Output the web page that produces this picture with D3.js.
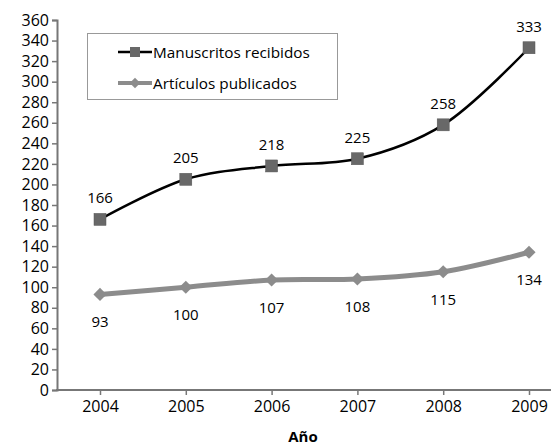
<!DOCTYPE html>
<html>
<head>
<meta charset="utf-8">
<script src="https://cdn.jsdelivr.net/npm/d3@7"></script>
<style>
  body { margin: 0; background: #fff; }
  svg { display: block; }
</style>
</head>
<body>
<svg></svg>
<script>
const years = ['2004', '2005', '2006', '2007', '2008', '2009'];
const manuscritos = [166, 205, 218, 225, 258, 333];
const articulos = [93, 100, 107, 108, 115, 134];
const yTicks = d3.range(0, 361, 20);
const seriesNames = ['Manuscritos recibidos', 'Artículos publicados'];

const WIDTH = 555;
const HEIGHT = 446;
const FONT = '"Open Sans", sans-serif';

const svg = d3.select('svg')
  .attr('width', WIDTH)
  .attr('height', HEIGHT)
  .attr('font-family', FONT);

const xScale = d3.scalePoint()
  .domain(years)
  .range([100, 529]);

const yScale = d3.scaleLinear()
  .domain([0, 360])
  .range([390, 20]);

// y axis
const yAxis = d3.axisLeft(yScale)
  .tickValues(yTicks)
  .tickSize(5)
  .tickPadding(3);

const gy = svg.append('g')
  .attr('transform', 'translate(57, 0)')
  .call(yAxis);
gy.select('.domain').attr('stroke', '#777').attr('stroke-width', 2);
gy.selectAll('.tick line').attr('stroke', '#777').attr('stroke-width', 1.5);
gy.selectAll('.tick text').attr('font-size', 16).attr('fill', '#000').attr('font-family', FONT);

// x axis
const xAxis = d3.axisBottom(xScale)
  .tickSize(5)
  .tickPadding(6);

const gx = svg.append('g')
  .attr('transform', 'translate(0, 390)')
  .call(xAxis);
gx.select('.domain').remove();
gx.append('line')
  .attr('x1', 56).attr('x2', 551)
  .attr('stroke', '#777').attr('stroke-width', 2);
gx.selectAll('.tick line').attr('stroke', '#777').attr('stroke-width', 1.5);
gx.selectAll('.tick text').attr('font-size', 16).attr('fill', '#000').attr('font-family', FONT);

svg.append('text')
  .text('Año')
  .attr('x', 303)
  .attr('y', 442)
  .attr('text-anchor', 'middle')
  .attr('font-size', 15)
  .attr('font-weight', 'bold')
  .attr('fill', '#000');

// lines
const line = d3.line()
  .x((d, i) => xScale(years[i]))
  .y(d => yScale(d))
  .curve(d3.curveCatmullRom.alpha(0.5));

svg.append('path')
  .datum(articulos)
  .attr('d', line)
  .attr('fill', 'none')
  .attr('stroke', '#8c8c8c')
  .attr('stroke-width', 5);

svg.append('path')
  .datum(manuscritos)
  .attr('d', line)
  .attr('fill', 'none')
  .attr('stroke', '#000')
  .attr('stroke-width', 2.5);

// markers
const diamond = d3.symbol().type(d3.symbolDiamond2).size(110);

svg.selectAll('.art-mark')
  .data(articulos)
  .enter()
  .append('path')
  .attr('class', 'art-mark')
  .attr('d', diamond)
  .attr('transform', (d, i) => `translate(${xScale(years[i])}, ${yScale(d)})`)
  .attr('fill', '#8c8c8c');

svg.selectAll('.man-mark')
  .data(manuscritos)
  .enter()
  .append('rect')
  .attr('class', 'man-mark')
  .attr('x', (d, i) => xScale(years[i]) - 6)
  .attr('y', d => yScale(d) - 6)
  .attr('width', 12)
  .attr('height', 12)
  .attr('fill', '#686868')
  .attr('stroke', '#555')
  .attr('stroke-width', 0.5);

// data labels
svg.selectAll('.man-label')
  .data(manuscritos)
  .enter()
  .append('text')
  .attr('class', 'man-label')
  .text(d => d)
  .attr('x', (d, i) => xScale(years[i]))
  .attr('y', d => yScale(d) - 16)
  .attr('text-anchor', 'middle')
  .attr('font-size', 15)
  .attr('fill', '#000');

svg.selectAll('.art-label')
  .data(articulos)
  .enter()
  .append('text')
  .attr('class', 'art-label')
  .text(d => d)
  .attr('x', (d, i) => xScale(years[i]))
  .attr('y', d => yScale(d) + 33)
  .attr('text-anchor', 'middle')
  .attr('font-size', 15)
  .attr('fill', '#000');

// legend
const legend = svg.append('g');
legend.append('rect')
  .attr('x', 87.5).attr('y', 33.5)
  .attr('width', 250).attr('height', 66)
  .attr('fill', '#fff')
  .attr('stroke', '#999')
  .attr('stroke-width', 1);

legend.append('line')
  .attr('x1', 118).attr('x2', 152)
  .attr('y1', 52).attr('y2', 52)
  .attr('stroke', '#000').attr('stroke-width', 2.5);
legend.append('rect')
  .attr('x', 130).attr('y', 47)
  .attr('width', 10).attr('height', 10)
  .attr('fill', '#686868');
legend.append('text')
  .text(seriesNames[0])
  .attr('x', 153).attr('y', 57.5)
  .attr('font-size', 15.3).attr('fill', '#000');

legend.append('line')
  .attr('x1', 118).attr('x2', 152)
  .attr('y1', 83).attr('y2', 83)
  .attr('stroke', '#8c8c8c').attr('stroke-width', 4);
legend.append('path')
  .attr('d', d3.symbol().type(d3.symbolDiamond2).size(70))
  .attr('transform', 'translate(135, 83)')
  .attr('fill', '#8c8c8c');
legend.append('text')
  .text(seriesNames[1])
  .attr('x', 153).attr('y', 88.5)
  .attr('font-size', 15.3).attr('fill', '#000');
</script>
</body>
</html>
